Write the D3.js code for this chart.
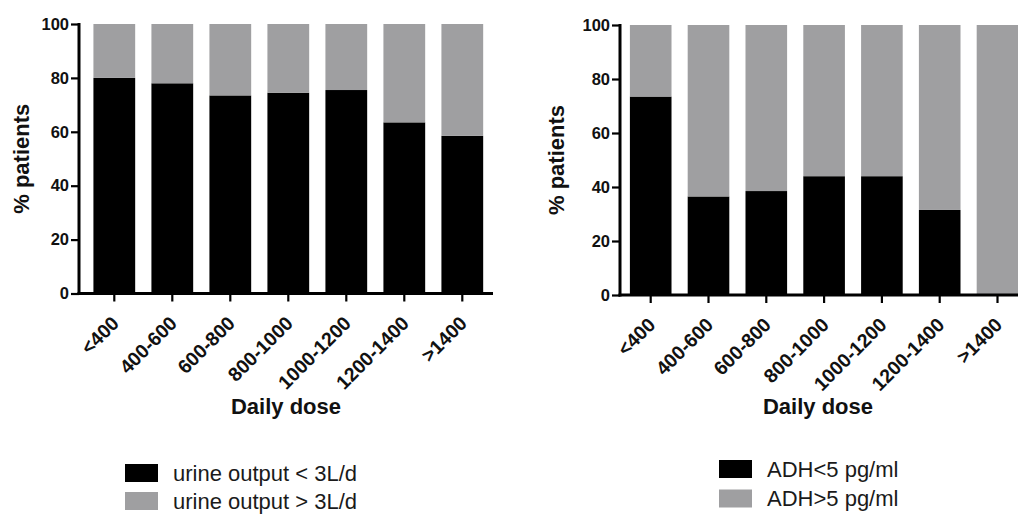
<!DOCTYPE html>
<html>
<head>
<meta charset="utf-8">
<script src="https://cdn.jsdelivr.net/npm/d3@7"></script>
<style>
body { margin: 0; background: #ffffff; }
svg { display: block; font-family: "Liberation Sans", Arial, sans-serif; }
</style>
</head>
<body>
<div id="chart"></div>
<script>

// data
// data

var doseLabels = ["<400", "400-600", "600-800", "800-1000", "1000-1200", "1200-1400", ">1400"];
var urineBelow = [80, 78, 73.5, 74.5, 75.5, 63.5, 58.5];
var urineAbove = [20, 22, 26.5, 25.5, 24.5, 36.5, 41.5];
var adhBelow = [73.5, 36.5, 38.5, 44, 44, 31.5, 0];
var adhAbove = [26.5, 63.5, 61.5, 56, 56, 68.5, 100];
var yTicks = [0, 20, 40, 60, 80, 100];
var urineLegend = ["urine output < 3L/d", "urine output > 3L/d"];
var adhLegend = ["ADH<5 pg/ml", "ADH>5 pg/ml"];
var seriesColors = ["#000000", "#9f9fa1"];

function stackedPercentChart()
{
    var axisX = 79,
        axisEnd = 493,
        xRange = [85.3, 491.3],
        yRange = [293.5, 24],
        yLabelX = 29,
        titleX = 286,
        titleY = 414,
        legendX = 125,
        legendY = 464,
        legendStep = 28,
        legendNames = [];

    function chart(selection)
    {
        selection.each(function(data)
        {
            var svg = d3.select(this);

            // scales
            // scales

            var x = d3.scaleBand()
                .domain(doseLabels)
                .range(xRange)
                .paddingInner(0.28)
                .paddingOuter(0.14);
            var y = d3.scaleLinear()
                .domain([0, 100])
                .range(yRange);

            // stack the two series on top of each other
            // stack the two series on top of each other

            var stack = d3.stack().keys(["low", "high"]);
            var layers = stack(data);

            svg.append("g")
                .selectAll("g")
                .data(layers)
                .enter().append("g")
                .attr("fill", function(d, i) { return seriesColors[i]; })
                .selectAll("rect")
                .data(function(d) { return d; })
                .enter().append("rect")
                .attr("x", function(d) { return x(d.data.dose); })
                .attr("y", function(d) { return y(d[1]); })
                .attr("width", x.bandwidth())
                .attr("height", function(d) { return y(d[0]) - y(d[1]); });

            // x axis
            // x axis

            var xAxis = svg.append("g")
                .attr("transform", "translate(0," + yRange[0] + ")")
                .call(d3.axisBottom(x).tickSize(8).tickSizeOuter(0));
            xAxis.select(".domain").remove();
            xAxis.selectAll(".tick line")
                .attr("stroke", "#000")
                .attr("stroke-width", 2.2);
            xAxis.selectAll(".tick text")
                .attr("x", 0)
                .attr("y", 0)
                .attr("dy", 0)
                .attr("transform", "translate(6,31) rotate(-45)")
                .style("text-anchor", "end")
                .style("font-size", "19.5px")
                .style("font-weight", "bold")
                .attr("fill", "#111");
            svg.append("line")
                .attr("x1", axisX - 1.5)
                .attr("x2", axisEnd)
                .attr("y1", yRange[0])
                .attr("y2", yRange[0])
                .attr("stroke", "#000")
                .attr("stroke-width", 3);

            // y axis
            // y axis

            var yAxis = svg.append("g")
                .attr("transform", "translate(" + axisX + ",0)")
                .call(d3.axisLeft(y).tickValues(yTicks).tickSize(8).tickPadding(2).tickSizeOuter(0));
            yAxis.select(".domain").remove();
            yAxis.selectAll(".tick line")
                .attr("stroke", "#000")
                .attr("stroke-width", 2.2);
            yAxis.selectAll(".tick text")
                .style("font-size", "16.5px")
                .style("font-weight", "bold")
                .attr("fill", "#111");
            svg.append("line")
                .attr("x1", axisX)
                .attr("x2", axisX)
                .attr("y1", yRange[1] - 1)
                .attr("y2", yRange[0] + 1.5)
                .attr("stroke", "#000")
                .attr("stroke-width", 3);

            // axis titles
            // axis titles

            svg.append("text")
                .attr("transform", "translate(" + yLabelX + "," + ((yRange[0] + yRange[1]) / 2) + ") rotate(-90)")
                .style("text-anchor", "middle")
                .style("font-size", "22px")
                .style("font-weight", "bold")
                .attr("fill", "#111")
                .text("% patients");

            svg.append("text")
                .attr("x", titleX)
                .attr("y", titleY)
                .style("text-anchor", "middle")
                .style("font-size", "22px")
                .style("font-weight", "bold")
                .attr("fill", "#111")
                .text("Daily dose");

            // legend
            // legend

            var legend = svg.append("g")
                .selectAll("g")
                .data(legendNames)
                .enter().append("g")
                .attr("transform", function(d, i) { return "translate(" + legendX + "," + (legendY + i * legendStep) + ")"; });
            legend.append("rect")
                .attr("width", 33)
                .attr("height", 18)
                .attr("fill", function(d, i) { return seriesColors[i]; });
            legend.append("text")
                .attr("x", 48)
                .attr("y", 16.5)
                .style("font-size", "22px")
                .attr("fill", "#1a1a1a")
                .text(function(d) { return d; });
        });
    }

    // getter and setter functions
    chart.axisX = function(value) { if (!arguments.length) return axisX; axisX = value; return chart; };
    chart.axisEnd = function(value) { if (!arguments.length) return axisEnd; axisEnd = value; return chart; };
    chart.xRange = function(value) { if (!arguments.length) return xRange; xRange = value; return chart; };
    chart.yRange = function(value) { if (!arguments.length) return yRange; yRange = value; return chart; };
    chart.yLabelX = function(value) { if (!arguments.length) return yLabelX; yLabelX = value; return chart; };
    chart.titleX = function(value) { if (!arguments.length) return titleX; titleX = value; return chart; };
    chart.titleY = function(value) { if (!arguments.length) return titleY; titleY = value; return chart; };
    chart.legendX = function(value) { if (!arguments.length) return legendX; legendX = value; return chart; };
    chart.legendY = function(value) { if (!arguments.length) return legendY; legendY = value; return chart; };
    chart.legendStep = function(value) { if (!arguments.length) return legendStep; legendStep = value; return chart; };
    chart.legendNames = function(value) { if (!arguments.length) return legendNames; legendNames = value; return chart; };

    return chart;
}

function toRows(low, high)
{
    return doseLabels.map(function(d, i) { return {dose: d, low: low[i], high: high[i]}; });
}

var svg = d3.select("#chart").append("svg")
    .attr("width", 1018)
    .attr("height", 514);

var urineChart = stackedPercentChart()
    .legendNames(urineLegend);

var adhChart = stackedPercentChart()
    .axisX(620)
    .axisEnd(1030)
    .xRange([621.8, 1026.4])
    .yRange([295, 25])
    .yLabelX(564)
    .titleX(818)
    .titleY(413.5)
    .legendX(719)
    .legendY(460)
    .legendStep(29.5)
    .legendNames(adhLegend);

svg.append("g").datum(toRows(urineBelow, urineAbove)).call(urineChart);
svg.append("g").datum(toRows(adhBelow, adhAbove)).call(adhChart);

</script>
</body>
</html>
